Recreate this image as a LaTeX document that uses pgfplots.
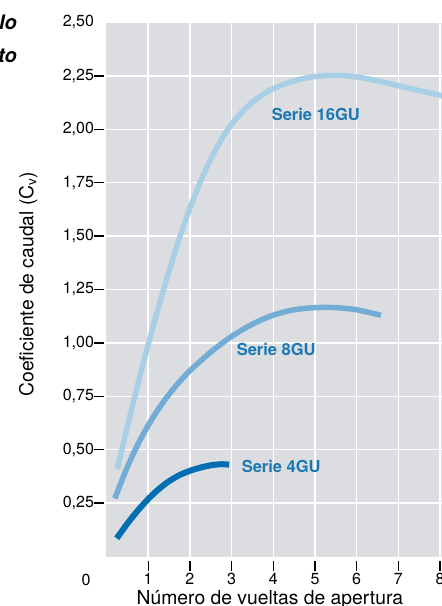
\documentclass[border=0pt]{standalone}
\usepackage{fontspec}
\setmainfont{TeX Gyre Heros}
\usepackage{pgfplots}
\pgfplotsset{compat=1.18}
\definecolor{plotbg}{RGB}{220,221,224}
\definecolor{c16}{RGB}{168,207,230}
\definecolor{c8}{RGB}{115,173,213}
\definecolor{c4}{RGB}{0,110,175}
\definecolor{lab}{RGB}{25,120,180}
\begin{document}
\begin{tikzpicture}[x=1pt,y=1pt]
\path[use as bounding box, clip] (0,0) rectangle (442,606);
\begin{axis}[
  at={(106.5pt,49.5pt)}, anchor=south west,
  scale only axis, width=335.5pt, height=534pt,
  xmin=0, xmax=8.046, ymin=0, ymax=2.5,
  axis background/.style={fill=plotbg},
  axis line style={draw=none},
  xtick={1,2,3,4,5,6,7,8},
  ytick={0.25,0.5,0.75,1,1.25,1.5,1.75,2,2.25},
  extra y ticks={2.5},
  extra y tick style={grid=none, major tick style={draw=none}},
  grid=major, major grid style={white, line width=1.5pt},
  tick align=outside, xtick pos=left, ytick pos=left,
  major tick length=10pt,
  ytick style={black, line width=1.3pt, xshift=-2.5pt},
  xtick style={black, line width=1.3pt, yshift=-4pt},
  tick label style={font=\fontsize{16}{19}\selectfont},
  /pgf/number format/assume math mode=true,
  yticklabel style={/pgf/number format/fixed, /pgf/number format/fixed zerofill, /pgf/number format/precision=2, /pgf/number format/use comma, xshift=1pt},
  xticklabel style={yshift=-3.5pt},
  xlabel={Número de vueltas de apertura},
  xlabel style={at={(rel axis cs:0.487,0)}, anchor=base, yshift=-47.5pt, font=\fontsize{19.3}{22}\selectfont},
  ylabel={Coeficiente de caudal (C\textsubscript{v})},
  ylabel style={at={(rel axis cs:0,0.51)}, anchor=base, yshift=73.2pt, font=\fontsize{19.3}{22}\selectfont},
]
\addplot[c16, line width=5.5pt, smooth] coordinates {
(0.26,0.41) (0.5,0.607) (0.75,0.805) (1.0,0.992) (1.25,1.169) (1.5,1.336) (1.75,1.491) (2.0,1.631) (2.25,1.753) (2.5,1.861) (2.75,1.951) (3.0,2.024) (3.25,2.081) (3.5,2.127) (3.75,2.163) (4.0,2.190) (4.5,2.227) (5.0,2.247) (5.5,2.253) (6.0,2.245) (6.5,2.227) (7.0,2.204) (7.5,2.181) (8.0,2.159) (8.1,2.154)};
\addplot[c8, line width=5.5pt, smooth] coordinates {
(0.2,0.272) (0.5,0.419) (0.75,0.524) (1.0,0.614) (1.25,0.692) (1.5,0.759) (1.75,0.818) (2.0,0.870) (2.5,0.957) (3.0,1.030) (3.5,1.088) (4.0,1.130) (4.5,1.155) (5.0,1.165) (5.5,1.165) (6.0,1.155) (6.58,1.129)};
\addplot[c4, line width=6pt, smooth] coordinates {
(0.245,0.085) (0.5,0.154) (0.75,0.215) (1.0,0.269) (1.25,0.315) (1.5,0.3525) (1.75,0.381) (2.0,0.401) (2.25,0.416) (2.5,0.427) (2.75,0.432) (2.94,0.430)};
\node[lab, font=\bfseries\fontsize{16.5}{19}\selectfont] at (axis cs:5.02,2.07) {Serie 16GU};
\node[lab, font=\bfseries\fontsize{16.5}{19}\selectfont] at (axis cs:4.07,0.967) {Serie 8GU};
\node[lab, font=\bfseries\fontsize{16.5}{19}\selectfont] at (axis cs:4.19,0.42) {Serie 4GU};
\end{axis}
\node[font=\fontsize{16}{19}\selectfont] at (86,26) {0};
\node[anchor=base east, inner sep=0pt, font=\bfseries\itshape\fontsize{20}{24}\selectfont] at (17,576.5) {lo};
\node[anchor=base east, inner sep=0pt, font=\bfseries\itshape\fontsize{20}{24}\selectfont] at (17,543) {to};
\end{tikzpicture}
\end{document}
